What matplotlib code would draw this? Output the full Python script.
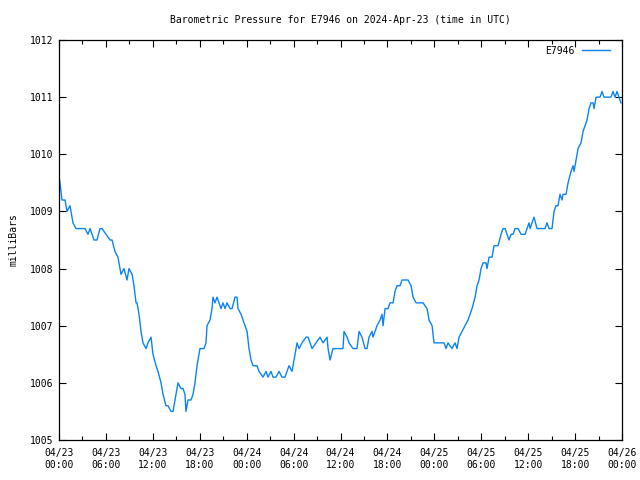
import matplotlib
matplotlib.use('Agg')
import matplotlib.pyplot as plt
import matplotlib.dates as mdates
import numpy as np
import pandas as pd

# hours after 2024-04-23 00:00 UTC, and pressure in mb
hours = [0.0, 0.13, 0.38, 0.77, 1.02, 1.41, 1.66, 1.79, 2.17, 3.33, 3.71, 3.97, 4.48, 4.86, 5.24,
         5.5, 6.01, 6.52, 6.78, 7.16, 7.54, 7.93, 8.31, 8.70, 8.95, 9.34, 9.59, 9.85, 9.98, 10.23,
         10.49, 10.74, 11.13, 11.38, 11.77, 12.02, 12.41, 12.66, 13.05, 13.30, 13.68, 13.94, 14.32,
         14.58, 14.71, 14.96, 15.22, 15.60, 15.86, 16.11, 16.24, 16.50, 16.88, 17.14, 17.39, 17.65,
         18.03, 18.54, 18.80, 18.93, 19.31, 19.57, 19.70, 19.95, 20.21, 20.46, 20.72, 20.97, 21.23,
         21.49, 21.87, 22.13, 22.51, 22.77, 22.89, 23.28, 23.53, 23.79, 24.05, 24.30, 24.56, 24.81,
         25.32, 25.58, 26.09, 26.47, 26.73, 27.11, 27.37, 27.75, 28.14, 28.52, 28.90, 29.16, 29.42,
         29.80, 30.06, 30.44, 30.70, 31.08, 31.59, 31.85, 32.36, 32.87, 33.38, 33.77, 34.28, 34.41,
         34.66, 35.04, 36.32, 36.45, 36.84, 37.09, 37.60, 38.11, 38.37, 38.75, 39.14, 39.39, 39.65,
         40.03, 40.16, 40.67, 41.06, 41.31, 41.44, 41.70, 42.08, 42.33, 42.72, 42.97, 43.23, 43.61,
         43.87, 44.64, 45.02, 45.28, 45.66, 46.17, 46.56, 47.07, 47.32, 47.71, 47.96, 49.24, 49.50,
         49.75, 50.26, 50.65, 50.90, 51.16, 51.54, 51.93, 52.31, 52.82, 53.21, 53.46, 53.72, 53.97,
         54.23, 54.61, 54.74, 55.00, 55.38, 55.64, 56.15, 56.53, 56.79, 57.05, 57.30, 57.55, 57.81,
         58.07, 58.32, 58.71, 59.09, 59.60, 59.86, 60.11, 60.24, 60.49, 60.75, 61.13, 62.16, 62.41,
         62.67, 63.05, 63.31, 63.56, 63.82, 64.07, 64.33, 64.46, 64.84, 65.10, 65.48, 65.74, 65.87,
         66.12, 66.38, 66.76, 67.02, 67.27, 67.53, 67.79, 68.04, 68.30, 68.43, 68.68, 69.19, 69.45,
         69.70, 70.60, 70.85, 71.11, 71.36, 71.62, 71.87]
pressure = [1009.6, 1009.5, 1009.2, 1009.2, 1009.0, 1009.1, 1008.9, 1008.8, 1008.7, 1008.7, 1008.6,
            1008.7, 1008.5, 1008.5, 1008.7, 1008.7, 1008.6, 1008.5, 1008.5, 1008.3, 1008.2, 1007.9,
            1008.0, 1007.8, 1008.0, 1007.9, 1007.7, 1007.4, 1007.4, 1007.2, 1006.9, 1006.7, 1006.6,
            1006.7, 1006.8, 1006.5, 1006.3, 1006.2, 1006.0, 1005.8, 1005.6, 1005.6, 1005.5, 1005.5,
            1005.6, 1005.8, 1006.0, 1005.9, 1005.9, 1005.8, 1005.5, 1005.7, 1005.7, 1005.8, 1006.0,
            1006.3, 1006.6, 1006.6, 1006.7, 1007.0, 1007.1, 1007.3, 1007.5, 1007.4, 1007.5, 1007.4,
            1007.3, 1007.4, 1007.3, 1007.4, 1007.3, 1007.3, 1007.5, 1007.5, 1007.3, 1007.2, 1007.1,
            1007.0, 1006.9, 1006.6, 1006.4, 1006.3, 1006.3, 1006.2, 1006.1, 1006.2, 1006.1, 1006.2,
            1006.1, 1006.1, 1006.2, 1006.1, 1006.1, 1006.2, 1006.3, 1006.2, 1006.4, 1006.7, 1006.6,
            1006.7, 1006.8, 1006.8, 1006.6, 1006.7, 1006.8, 1006.7, 1006.8, 1006.6, 1006.4, 1006.6,
            1006.6, 1006.9, 1006.8, 1006.7, 1006.6, 1006.6, 1006.9, 1006.8, 1006.6, 1006.6, 1006.8,
            1006.9, 1006.8, 1007.0, 1007.1, 1007.2, 1007.0, 1007.3, 1007.3, 1007.4, 1007.4, 1007.6,
            1007.7, 1007.7, 1007.8, 1007.8, 1007.7, 1007.5, 1007.4, 1007.4, 1007.4, 1007.3, 1007.1,
            1007.0, 1006.7, 1006.7, 1006.6, 1006.7, 1006.6, 1006.7, 1006.6, 1006.8, 1006.9, 1007.0,
            1007.1, 1007.3, 1007.5, 1007.7, 1007.8, 1008.0, 1008.1, 1008.1, 1008.0, 1008.2, 1008.2,
            1008.4, 1008.4, 1008.6, 1008.7, 1008.7, 1008.6, 1008.5, 1008.6, 1008.6, 1008.7, 1008.7,
            1008.6, 1008.6, 1008.7, 1008.8, 1008.7, 1008.8, 1008.9, 1008.7, 1008.7, 1008.8, 1008.7,
            1008.7, 1009.0, 1009.1, 1009.1, 1009.3, 1009.2, 1009.3, 1009.3, 1009.5, 1009.7, 1009.8,
            1009.7, 1009.9, 1010.1, 1010.2, 1010.4, 1010.5, 1010.6, 1010.8, 1010.9, 1010.9, 1010.8,
            1011.0, 1011.0, 1011.1, 1011.0, 1011.0, 1011.1, 1011.0, 1011.1, 1011.0, 1010.9]
station = 'E7946'
start = pd.Timestamp('2024-04-23 00:00')

times = start + pd.to_timedelta(hours, unit='h')

plt.rcParams['font.family'] = 'DejaVu Sans Mono'
plt.rcParams['font.size'] = 7

fig = plt.figure(figsize=(6.4, 4.8), dpi=100)
ax = fig.add_axes([59/640, 40/480, 563/640, 400/480])

ax.plot(times, pressure, color='#0a84f5', lw=1.0, label=station)

ax.set_xlim(start, start + pd.Timedelta(hours=72))
ax.set_ylim(1005, 1012)
ax.set_yticks(np.arange(1005, 1013, 1))

ax.xaxis.set_major_locator(mdates.HourLocator(byhour=[0, 6, 12, 18]))
ax.xaxis.set_minor_locator(mdates.HourLocator(byhour=[3, 9, 15, 21]))
ax.xaxis.set_major_formatter(mdates.DateFormatter('%m/%d\n%H:%M'))

ax.tick_params(which='major', direction='in', length=5, width=0.8,
               top=True, right=True, pad=4)
ax.tick_params(which='minor', direction='in', length=3, width=0.8, top=True)
ax.tick_params(axis='x', which='major', pad=6)
for s in ax.spines.values():
    s.set_linewidth(0.9)

ax.set_ylabel('milliBars', labelpad=8)
ax.set_title('Barometric Pressure for %s on 2024-Apr-23 (time in UTC)' % station,
             fontsize=7, pad=12)

ax.legend(loc='upper right', bbox_to_anchor=(0.993, 1.005), frameon=False,
          markerfirst=False, handlelength=2.9, borderaxespad=0.4, handletextpad=0.8)

fig.savefig('out.png', dpi=100)
